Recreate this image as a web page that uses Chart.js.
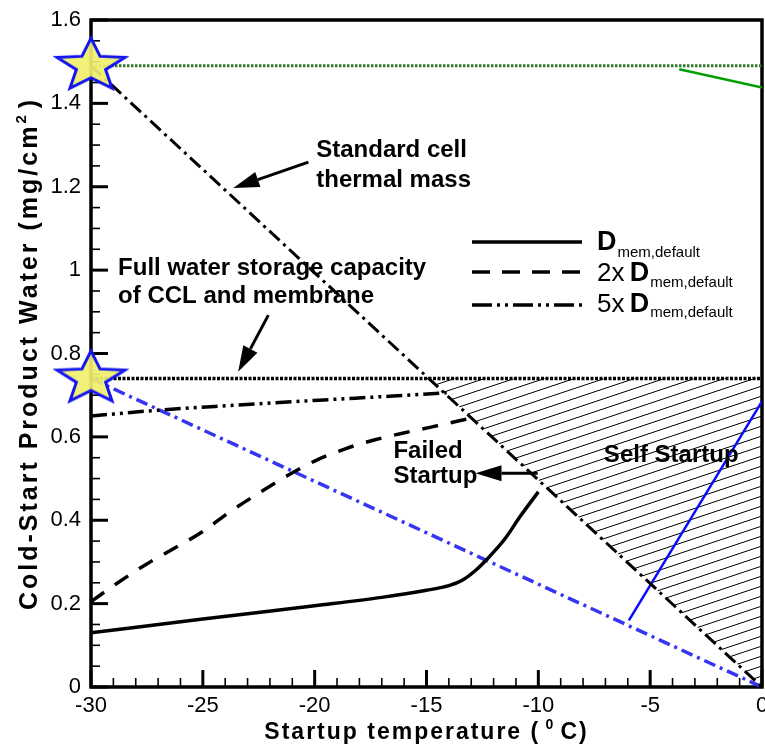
<!DOCTYPE html>
<html>
<head>
<meta charset="utf-8">
<script src="https://cdn.jsdelivr.net/npm/chart.js@4.4.1/dist/chart.umd.min.js"></script>
<style>
  html, body { margin: 0; padding: 0; background: #fff; }
  #c { display: block; }
</style>
</head>
<body>
<canvas id="c" width="765" height="750"></canvas>
<script>
// ---- data ----
const xTickValues = [-30, -25, -20, -15, -10, -5, 0];
const yTickValues = [0, 0.2, 0.4, 0.6, 0.8, 1, 1.2, 1.4, 1.6];

// D_mem,default
const tempD1  = [-30, -25, -20, -17, -15, -14, -13.4, -12.8, -12.2, -11.5, -10.8, -10];
const waterD1 = [0.13, 0.163, 0.195, 0.215, 0.232, 0.243, 0.256, 0.28, 0.312, 0.355, 0.41, 0.468];

// 2x D_mem,default
const tempD2  = [-30, -28.8, -27.45, -26.2, -25, -23.8, -22.5, -21.25, -20, -18.6, -17.3, -15.8, -14.75, -13.0];
const waterD2 = [0.205, 0.25, 0.297, 0.335, 0.373, 0.42, 0.465, 0.506, 0.542, 0.572, 0.593, 0.612, 0.624, 0.645];

// 5x D_mem,default
const tempD5  = [-30, -27, -23.5, -19.8, -16.5, -14.1];
const waterD5 = [0.65, 0.664, 0.676, 0.688, 0.698, 0.706];

// standard cell thermal mass limit
const thermalTemp  = [-30, 0];
const thermalWater = [1.49, 0];

// full water storage capacity of CCL and membrane
const capacityTemp  = [-30, 0];
const capacityWater = [0.74, 0.74];

// upper reference level
const upperTemp  = [-30, 0];
const upperWater = [1.49, 1.49];

// self-startup region (between thermal mass line and storage capacity)
const selfTemp  = [-14.9, 0];
const selfWater = [0.74, 0];

// blue reference lines
const blueDashTemp   = [-30, 0];
const blueDashWater  = [0.74, 0];
const blueSolidTemp  = [-5.95, 0];
const blueSolidWater = [0.16, 0.685];

// green segment
const greenTemp  = [-3.7, 0];
const greenWater = [1.482, 1.438];

// star markers
const starTemp  = [-30, -30];
const starWater = [1.49, 0.74];

// ---- helpers ----
const FONT = '"Liberation Sans", Arial, sans-serif';
const pts = (xs, ys) => xs.map((x, i) => ({ x: x, y: ys[i] }));
const canvas = document.getElementById('c');
const mainCtx = canvas.getContext('2d');

function makeHatch() {
  const t = document.createElement('canvas');
  t.width = 30; t.height = 10;
  const g = t.getContext('2d');
  g.strokeStyle = '#000';
  g.lineWidth = 1;
  for (const dy of [-10, 0, 10]) {
    g.beginPath();
    g.moveTo(0, 10 + dy);
    g.lineTo(30, dy);
    g.stroke();
  }
  return mainCtx.createPattern(t, 'repeat');
}

function makeStar(w, h) {
  const pad = 4;
  const c = document.createElement('canvas');
  const rx = w / 1.902, ry = h / 1.809;
  c.width = Math.ceil(w + pad * 2);
  c.height = Math.ceil(ry * 2 + pad * 2);
  const g = c.getContext('2d');
  const cx = c.width / 2, cy = c.height / 2;
  g.beginPath();
  for (let i = 0; i < 10; i++) {
    const r = i % 2 === 0 ? 1 : 0.43;
    const a = -Math.PI / 2 + i * Math.PI / 5;
    const x = cx + Math.cos(a) * r * rx;
    const y = cy + Math.sin(a) * r * ry;
    if (i === 0) g.moveTo(x, y); else g.lineTo(x, y);
  }
  g.closePath();
  g.fillStyle = 'rgba(240,240,110,0.92)';
  g.fill();
  g.lineWidth = 3;
  g.strokeStyle = '#1414f0';
  g.lineJoin = 'miter';
  g.stroke();
  return c;
}

function arrow(ctx, x1, y1, x2, y2, headLen, headHalf) {
  const ang = Math.atan2(y2 - y1, x2 - x1);
  const bx = x2 - Math.cos(ang) * headLen;
  const by = y2 - Math.sin(ang) * headLen;
  ctx.beginPath();
  ctx.moveTo(x1, y1);
  ctx.lineTo(bx, by);
  ctx.lineWidth = 3;
  ctx.stroke();
  ctx.beginPath();
  ctx.moveTo(x2, y2);
  ctx.lineTo(bx + Math.sin(ang) * headHalf, by - Math.cos(ang) * headHalf);
  ctx.lineTo(bx - Math.sin(ang) * headHalf, by + Math.cos(ang) * headHalf);
  ctx.closePath();
  ctx.fill();
}

// inward ticks and plot frame
const framePlugin = {
  id: 'frame',
  beforeDatasetsDraw(chart) {
    const { ctx, chartArea: a, scales: { x, y } } = chart;
    ctx.save();
    ctx.strokeStyle = '#000';
    for (let t = -30; t <= 0; t += 1) {
      const px = x.getPixelForValue(t);
      const major = t % 5 === 0;
      ctx.lineWidth = major ? 3 : 1.6;
      ctx.beginPath();
      ctx.moveTo(px, a.bottom);
      ctx.lineTo(px, a.bottom - (major ? 17 : 9));
      ctx.stroke();
    }
    for (let i = 0; i <= 32; i++) {
      const py = y.getPixelForValue(i * 0.05);
      const major = i % 4 === 0;
      ctx.lineWidth = major ? 3 : 1.6;
      ctx.beginPath();
      ctx.moveTo(a.left, py);
      ctx.lineTo(a.left + (major ? 17 : 9), py);
      ctx.stroke();
    }
    ctx.lineWidth = 3.5;
    ctx.strokeRect(a.left, a.top, a.right - a.left, a.bottom - a.top);
    ctx.restore();
  }
};

// notes, arrows, legend and axis titles
const notes = [
  { text: 'Standard cell', t: -19.93, w: 1.288 },
  { text: 'thermal mass', t: -19.93, w: 1.216 },
  { text: 'Full water storage capacity', t: -28.79, w: 1.005 },
  { text: 'of CCL and membrane', t: -28.79, w: 0.938 },
  { text: 'Failed', t: -16.48, w: 0.566 },
  { text: 'Startup', t: -16.48, w: 0.505 },
  { text: 'Self Startup', t: -7.07, w: 0.555 }
];
const arrows = [
  { t1: -20.28, w1: 1.259, t2: -23.64, w2: 1.197 },
  { t1: -22.07, w1: 0.892, t2: -23.42, w2: 0.756 },
  { t1: -10.03, w1: 0.513, t2: -12.81, w2: 0.513 }
];

const overlayPlugin = {
  id: 'overlay',
  afterDatasetsDraw(chart) {
    const { ctx, chartArea: a, scales: { x, y } } = chart;
    ctx.save();
    ctx.fillStyle = '#000';
    ctx.strokeStyle = '#000';
    ctx.textBaseline = 'middle';
    ctx.textAlign = 'left';
    ctx.font = 'bold 24px ' + FONT;
    notes.forEach(n => {
      ctx.fillText(n.text, x.getPixelForValue(n.t), y.getPixelForValue(n.w));
    });
    arrows.forEach(r => {
      arrow(ctx, x.getPixelForValue(r.t1), y.getPixelForValue(r.w1),
                 x.getPixelForValue(r.t2), y.getPixelForValue(r.w2), 26, 8);
    });

    // legend
    const lx0 = 472, lx1 = 582;
    const rows = [
      { y: 242, dash: [], pre: '', base: 250, sub: 257 },
      { y: 272, dash: [18, 12], pre: '2x ', base: 281, sub: 287 },
      { y: 305, dash: [20, 5, 3, 5, 3, 5], pre: '5x ', base: 312, sub: 317 }
    ];
    rows.forEach(r => {
      ctx.setLineDash(r.dash);
      ctx.lineWidth = 3.5;
      ctx.beginPath();
      ctx.moveTo(lx0, r.y);
      ctx.lineTo(lx1, r.y);
      ctx.stroke();
      ctx.setLineDash([]);
      ctx.textBaseline = 'alphabetic';
      let tx = 597;
      if (r.pre) {
        ctx.font = '26px ' + FONT;
        ctx.fillText(r.pre, tx, r.base);
        tx += ctx.measureText(r.pre).width - 2;
      }
      ctx.font = 'bold 27px ' + FONT;
      ctx.fillText('D', tx, r.base);
      tx += ctx.measureText('D').width + 1;
      ctx.font = '15px ' + FONT;
      ctx.fillText('mem,default', tx, r.sub);
    });

    // x axis title
    const cx = (a.left + a.right) / 2;
    ctx.textBaseline = 'alphabetic';
    ctx.letterSpacing = '2px';
    ctx.font = 'bold 23px ' + FONT;
    const p1 = 'Startup temperature ( ', p3 = 'C)';
    const w1 = ctx.measureText(p1).width, w3 = ctx.measureText(p3).width;
    ctx.font = 'bold 14px ' + FONT;
    const w2 = ctx.measureText('0').width + 2;
    let xx = cx - (w1 + w2 + w3) / 2;
    ctx.font = 'bold 23px ' + FONT;
    ctx.fillText(p1, xx, 739);
    ctx.font = 'bold 14px ' + FONT;
    ctx.fillText('0', xx + w1 - 3, 729);
    ctx.font = 'bold 23px ' + FONT;
    ctx.fillText(p3, xx + w1 + w2, 739);

    // y axis title
    const cy = (a.top + a.bottom) / 2;
    ctx.translate(37, cy);
    ctx.rotate(-Math.PI / 2);
    ctx.letterSpacing = '3px';
    ctx.font = 'bold 25px ' + FONT;
    const q1 = 'Cold-Start Product Water (mg/cm', q3 = ')';
    const v1 = ctx.measureText(q1).width, v3 = ctx.measureText(q3).width;
    ctx.font = 'bold 15px ' + FONT;
    const v2 = ctx.measureText('2').width + 4;
    let yy = -(v1 + v2 + v3) / 2;
    ctx.font = 'bold 25px ' + FONT;
    ctx.fillText(q1, yy, 0);
    ctx.font = 'bold 15px ' + FONT;
    ctx.fillText('2', yy + v1, -11);
    ctx.font = 'bold 25px ' + FONT;
    ctx.fillText(q3, yy + v1 + v2, 0);
    ctx.restore();
  }
};

const line = (data, color, width, dash, order, extra) => Object.assign({
  data: data, showLine: true, borderColor: color, borderWidth: width,
  borderDash: dash, pointRadius: 0, fill: false, order: order, borderCapStyle: 'butt'
}, extra || {});

const tickText = v => String(+Number(v).toFixed(2));

new Chart(canvas, {
  type: 'scatter',
  data: {
    datasets: [
      { data: pts(starTemp, starWater), pointStyle: makeStar(68, 50), pointRadius: 20,
        showLine: false, clip: false, order: 0 },
      line(pts(tempD1, waterD1), '#000', 3.5, [], 1, { cubicInterpolationMode: 'monotone' }),
      line(pts(tempD2, waterD2), '#000', 3.5, [16, 13], 2, { cubicInterpolationMode: 'monotone' }),
      line(pts(tempD5, waterD5), '#000', 3.5, [16, 5, 3, 5, 3, 5], 3, { cubicInterpolationMode: 'monotone' }),
      line(pts(thermalTemp, thermalWater), '#000', 3, [14, 5, 3, 5], 4),
      line(pts(capacityTemp, capacityWater), '#000', 3.5, [3, 1.5], 5),
      line(pts(upperTemp, upperWater), '#2f7a2f', 3, [2.5, 1.5], 6),
      line(pts(blueDashTemp, blueDashWater), '#3535f2', 3.5, [12, 5, 3, 5], 7),
      line(pts(blueSolidTemp, blueSolidWater), '#0a0aff', 2.5, [], 8),
      line(pts(greenTemp, greenWater), '#00a000', 2.5, [], 9),
      { data: pts(selfTemp, selfWater), showLine: true, borderWidth: 0, pointRadius: 0,
        backgroundColor: makeHatch(), fill: { value: 0.74 }, order: 20 }
    ]
  },
  options: {
    responsive: false,
    animation: false,
    devicePixelRatio: 1,
    layout: { autoPadding: false, padding: { top: 20, right: 3, left: 0, bottom: 0 } },
    plugins: { legend: { display: false }, tooltip: { enabled: false } },
    scales: {
      x: {
        type: 'linear', min: -30, max: 0,
        afterBuildTicks: s => { s.ticks = xTickValues.map(v => ({ value: v })); },
        ticks: { color: '#000', font: { family: FONT, size: 22 }, padding: 6, maxRotation: 0, callback: tickText },
        grid: { display: false, drawTicks: false },
        border: { display: false },
        afterFit: s => { s.height = 63; s.paddingLeft = 0; s.paddingRight = 0; }
      },
      y: {
        type: 'linear', min: 0, max: 1.6,
        afterBuildTicks: s => { s.ticks = yTickValues.map(v => ({ value: v })); },
        ticks: { color: '#000', font: { family: FONT, size: 22 }, padding: 10, callback: tickText },
        grid: { display: false, drawTicks: false },
        border: { display: false },
        afterFit: s => { s.width = 91; s.paddingTop = 0; s.paddingBottom = 0; }
      }
    }
  },
  plugins: [framePlugin, overlayPlugin]
});
</script>
</body>
</html>
